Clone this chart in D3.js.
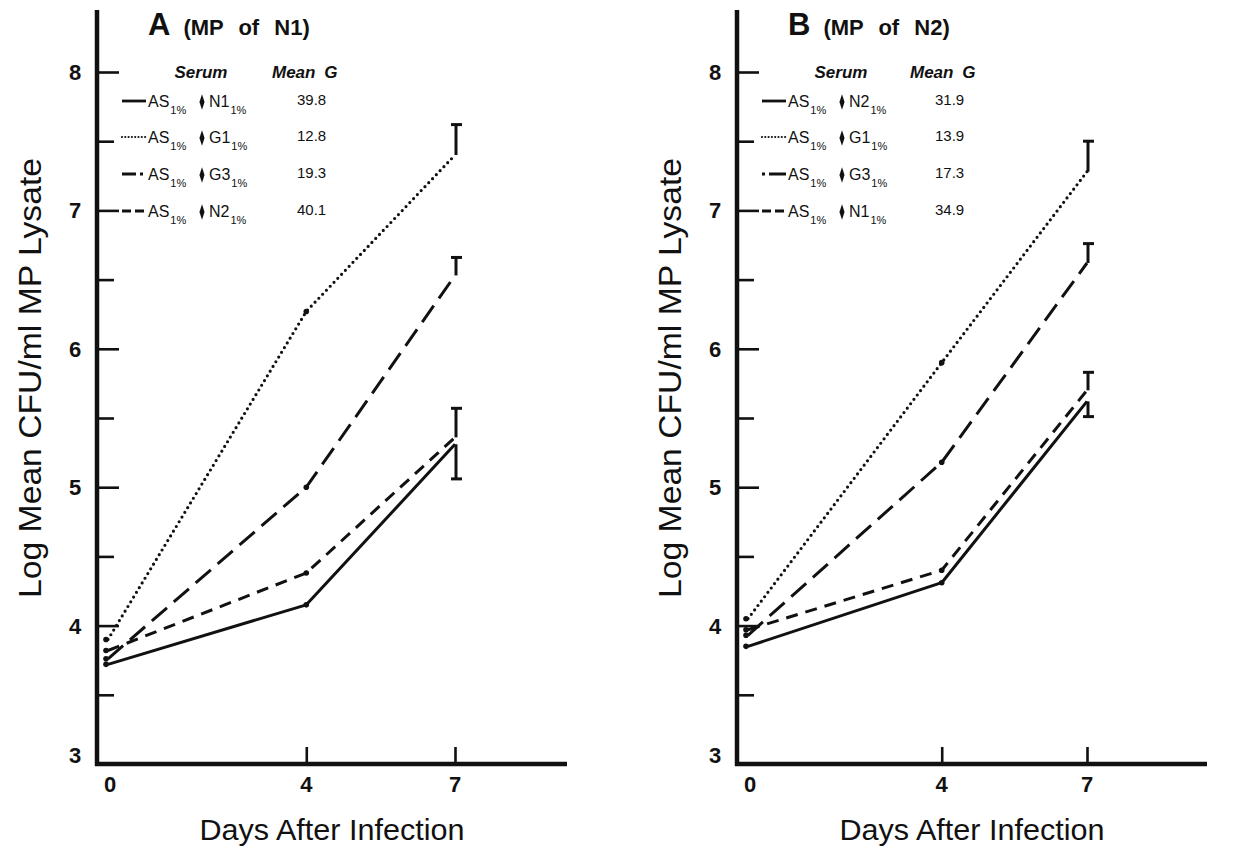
<!DOCTYPE html>
<html><head><meta charset="utf-8">
<script src="https://cdn.jsdelivr.net/npm/d3@7"></script>
<style>
body{margin:0;background:#fff}
svg{display:block}
text{font-family:"Liberation Sans",Arial,Helvetica,sans-serif;fill:#111}
</style>
</head><body>
<svg id="chart" width="1235" height="846"></svg>
<script>
// ---------- data ----------
const days = [0, 4, 7];
const xTickLabels = ["0", "4", "7"];
const yTicks = [3, 4, 5, 6, 7, 8];
const yMinorTicks = [3.5, 4.5, 5.5, 6.5, 7.5];
const panelLetters = ["A", "B"];
const panelSubtitles = ["(MP of N1)", "(MP of N2)"];
const legendHeaders = ["Serum", "Mean G"];
const xTitle = "Days After Infection";
const yTitle = "Log Mean CFU/ml MP Lysate";
const seriesStyles = ["solid", "dotted", "longdash", "shortdash"];

// Panel A (MP of N1)
const aSera = ["N1", "G1", "G3", "N2"];
const aMeanG = ["39.8", "12.8", "19.3", "40.1"];
const aSolidN1 = [3.72, 4.15, 5.31];
const aDottedG1 = [3.90, 6.27, 7.40];
const aLongDashG3 = [3.76, 5.00, 6.53];
const aShortDashN2 = [3.82, 4.38, 5.36];
const aErrorDay7 = [-0.25, 0.22, 0.13, 0.21];

// Panel B (MP of N2)
const bSera = ["N2", "G1", "G3", "N1"];
const bMeanG = ["31.9", "13.9", "17.3", "34.9"];
const bSolidN2 = [3.85, 4.31, 5.62];
const bDottedG1 = [4.05, 5.90, 7.28];
const bLongDashG3 = [3.93, 5.18, 6.62];
const bShortDashN1 = [3.97, 4.40, 5.70];
const bErrorDay7 = [-0.11, 0.22, 0.14, 0.13];

// ---------- drawing ----------
const svg = d3.select("#chart");

const dashFor = {
  solid: null,
  dotted: "0,5.5",
  longdash: "20,9",
  shortdash: "12,8"
};

function drawPanel(p) {
  const ox = p.axisX;
  const y = d3.scaleLinear().domain([3, 8]).range([764, 72]);
  const x = d3.scaleLinear().domain([0, 7]).range([ox + 11, ox + p.xSpan]);
  const g = svg.append("g");

  const major = g.append("g").attr("transform", `translate(${ox},0)`)
    .call(d3.axisRight(y).tickValues(yTicks).tickSize(22).tickFormat(""));
  const minor = g.append("g").attr("transform", `translate(${ox},0)`)
    .call(d3.axisRight(y).tickValues(yMinorTicks).tickSize(17).tickFormat(""));
  [major, minor].forEach(a => {
    a.select(".domain").remove();
    a.selectAll(".tick line").attr("stroke", "#111").attr("stroke-width", 2.6);
  });
  const xa = g.append("g").attr("transform", `translate(0,${y(3)})`)
    .call(d3.axisTop(x).tickValues([4, 7]).tickSize(17).tickFormat(""));
  xa.select(".domain").remove();
  xa.selectAll(".tick line").attr("stroke", "#111").attr("stroke-width", 2.6);

  g.append("line").attr("x1", ox).attr("x2", ox).attr("y1", 10).attr("y2", y(3) + 2)
    .attr("stroke", "#111").attr("stroke-width", 4.5);
  g.append("line").attr("x1", ox - 2).attr("x2", ox + 470).attr("y1", y(3)).attr("y2", y(3))
    .attr("stroke", "#111").attr("stroke-width", 4.5);

  g.selectAll(".ylab").data(yTicks).join("text")
    .attr("x", ox - 22).attr("y", d => y(d) + (d === 3 ? -1 : 8))
    .attr("text-anchor", "middle").attr("font-size", 22).attr("font-weight", "bold")
    .text(d => d);
  g.selectAll(".xlab").data(days).join("text")
    .attr("x", (d, i) => x(d) + (i === 0 ? 2 : 0)).attr("y", 792)
    .attr("text-anchor", "middle").attr("font-size", 22).attr("font-weight", "bold")
    .text((d, i) => xTickLabels[i]);

  g.append("text").attr("x", ox + 235).attr("y", 840).attr("text-anchor", "middle")
    .attr("font-size", 30).attr("textLength", 265).attr("lengthAdjust", "spacingAndGlyphs").text(xTitle);
  g.append("text").attr("transform", `translate(${ox - 56},${378}) rotate(-90)`)
    .attr("text-anchor", "middle").attr("font-size", 31)
    .attr("textLength", 440).attr("lengthAdjust", "spacingAndGlyphs").text(yTitle);

  const t = g.append("text").attr("x", ox + 51).attr("y", 35).attr("font-weight", "bold");
  t.append("tspan").attr("font-size", 31).text(p.letter);
  t.append("tspan").attr("font-size", 22).attr("dx", 13).attr("word-spacing", 9).text(p.subtitle);

  const line = d3.line().x((d, i) => x(days[i])).y(d => y(d));
  p.series.forEach((vals, k) => {
    const st = p.styles[k];
    const path = g.append("path").datum(vals).attr("d", line)
      .attr("fill", "none").attr("stroke", "#111")
      .attr("stroke-width", st === "dotted" ? 3.2 : 3)
      .attr("stroke-linejoin", "round");
    if (dashFor[st]) path.attr("stroke-dasharray", dashFor[st]);
    if (st === "dotted") path.attr("stroke-linecap", "round");
    [0, 1].forEach(i => {
      g.append("circle").attr("cx", x(days[i]) - (i === 0 ? 2 : 0)).attr("cy", y(vals[i]))
        .attr("r", 2.8).attr("fill", "#111");
    });
    const e = p.errors[k];
    const xe = x(days[2]) + 1;
    g.append("line").attr("x1", xe).attr("x2", xe).attr("y1", y(vals[2])).attr("y2", y(vals[2] + e))
      .attr("stroke", "#111").attr("stroke-width", 3);
    g.append("line").attr("x1", xe - 5).attr("x2", xe + 6).attr("y1", y(vals[2] + e)).attr("y2", y(vals[2] + e))
      .attr("stroke", "#111").attr("stroke-width", 3);
  });

  const lx = ox + 25;
  g.append("text").attr("x", lx + 79).attr("y", 78).attr("text-anchor", "middle")
    .attr("font-size", 17).attr("font-weight", "bold").attr("font-style", "italic").text(legendHeaders[0]);
  g.append("text").attr("x", lx + p.meanGX - 2).attr("y", 78)
    .attr("font-size", 17).attr("font-weight", "bold").attr("font-style", "italic")
    .attr("word-spacing", 4).text(legendHeaders[1]);
  const rowY = [102, 138, 175, 212];
  p.sera.forEach((s, k) => {
    const ry = rowY[k];
    const st = p.styles[k];
    const ls = g.append("line").attr("x1", lx).attr("x2", lx + 24).attr("y1", ry - 1).attr("y2", ry - 1)
      .attr("stroke", "#111").attr("stroke-width", 2.8);
    if (st === "dotted") ls.attr("stroke-dasharray", "0,3.3").attr("stroke-linecap", "round").attr("stroke-width", 2.2);
    if (st === "longdash") ls.attr("stroke-dasharray", p.legendLongDash);
    if (st === "shortdash") ls.attr("stroke-dasharray", "9,4");
    const tx = g.append("text").attr("x", lx + 26).attr("y", ry + 5).attr("font-size", 16);
    tx.append("tspan").text("AS");
    tx.append("tspan").attr("font-size", 11).attr("dy", 7).attr("dx", 1).text("1%");
    g.append("path").attr("d", d3.symbol(d3.symbolDiamond, 40)())
      .attr("transform", `translate(${lx + 80},${ry}) scale(0.75,1.3)`).attr("fill", "#111");
    const sx = g.append("text").attr("x", lx + 87).attr("y", ry + 5).attr("font-size", 16);
    sx.append("tspan").text(s);
    sx.append("tspan").attr("font-size", 11).attr("dy", 7).attr("dx", 1).text("1%");
    g.append("text").attr("x", lx + p.meanGX + 23).attr("y", ry + 3).attr("font-size", 15).text(p.meanG[k]);
  });
}

drawPanel({
  axisX: 97, xSpan: 358, letter: panelLetters[0], subtitle: panelSubtitles[0],
  series: [aSolidN1, aDottedG1, aLongDashG3, aShortDashN2],
  styles: seriesStyles, errors: aErrorDay7, sera: aSera, meanG: aMeanG,
  legendLongDash: "14,4,3,20", meanGX: 152
});
drawPanel({
  axisX: 737, xSpan: 350, letter: panelLetters[1], subtitle: panelSubtitles[1],
  series: [bSolidN2, bDottedG1, bLongDashG3, bShortDashN1],
  styles: seriesStyles, errors: bErrorDay7, sera: bSera, meanG: bMeanG,
  legendLongDash: "3,4,17,10", meanGX: 150
});
</script>
</body></html>
